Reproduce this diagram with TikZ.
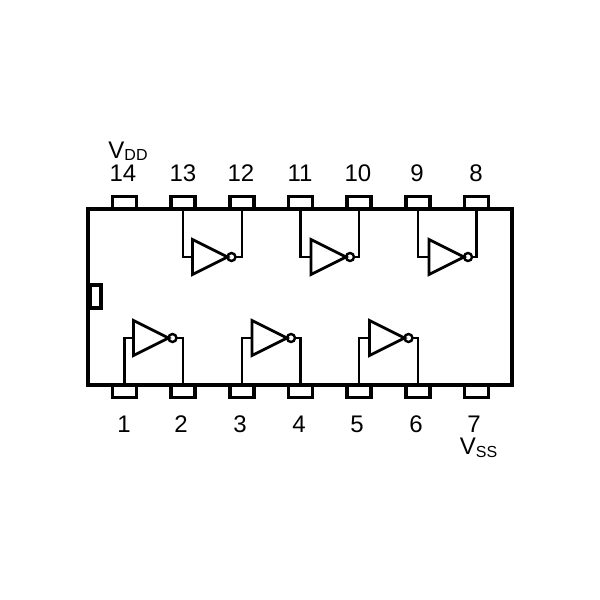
\documentclass[tikz,border=0pt]{standalone}
\usepackage{fontspec}
\setmainfont{Liberation Sans}
\usetikzlibrary{shapes.geometric}
\tikzset{
	chipbox/.style={draw,line width=4.8pt,minimum width=424pt,minimum height=176pt,inner sep=0pt},
	pinbox/.style={draw,fill=white,line width=3.4pt,minimum width=24pt,minimum height=11.5pt,inner sep=0pt},
	notchbox/.style={draw,fill=white,line width=3.4pt,minimum width=11pt,minimum height=23pt,inner sep=0pt},
	invert/.style={draw,line width=2.8pt,isosceles triangle,isosceles triangle stretches,minimum width=35pt,minimum height=35pt,inner sep=0pt,outer sep=0pt,anchor=lower side},
	bubble/.style={draw,circle,line width=2.4pt,minimum size=8pt,inner sep=0pt,outer sep=0pt,anchor=west},
	wire/.style={line width=2.4pt},
	pinlabel/.style={font=\fontsize{24}{24}\selectfont,inner sep=0pt}
}
\newcommand{\smalltext}[1]{{\fontsize{16}{16}\selectfont\raisebox{-2.5pt}{#1}}}
\begin{document}
\begin{tikzpicture}[x=1pt,y=-1pt]
		\useasboundingbox (0,0) rectangle (600,600);
		\node[chipbox] (chip) at (300,297) {};
		\node[notchbox] (notch) at (95.5,296.5) {};
		% pins, top row
		\node[pinbox] (p14) at (124.5,202.5) {};
		\node[pinbox] (p13) at (183,202.5) {};
		\node[pinbox] (p12) at (242,202.5) {};
		\node[pinbox] (p11) at (300.5,202.5) {};
		\node[pinbox] (p10) at (359,202.5) {};
		\node[pinbox] (p9) at (418,202.5) {};
		\node[pinbox] (p8) at (476.5,202.5) {};
		% pins, bottom row
		\node[pinbox] (p1) at (124.5,391.5) {};
		\node[pinbox] (p2) at (183,391.5) {};
		\node[pinbox] (p3) at (242,391.5) {};
		\node[pinbox] (p4) at (300.5,391.5) {};
		\node[pinbox] (p5) at (359,391.5) {};
		\node[pinbox] (p6) at (418,391.5) {};
		\node[pinbox] (p7) at (476.5,391.5) {};
		% inverters, top row
		\node[invert] (T1) at (192.5,257) {};
		\node[bubble] (C1) at (T1.apex) {};
		\node[invert] (T2) at (311,257) {};
		\node[bubble] (C2) at (T2.apex) {};
		\node[invert] (T3) at (429,257) {};
		\node[bubble] (C3) at (T3.apex) {};
		% inverters, bottom row
		\node[invert] (T4) at (133.5,338) {};
		\node[bubble] (C4) at (T4.apex) {};
		\node[invert] (T5) at (252,338) {};
		\node[bubble] (C5) at (T5.apex) {};
		\node[invert] (T6) at (369.5,338) {};
		\node[bubble] (C6) at (T6.apex) {};
		%
		\path[wire]
		% top wires
		(p13.south) edge[to path={|- (\tikztotarget)}] (T1.lower side)
		(p12.south) edge[to path={|- (\tikztotarget)}] (C1.east)
		(p11.south) edge[to path={|- (\tikztotarget)}] (T2.lower side)
		(p10.south) edge[to path={|- (\tikztotarget)}] (C2.east)
		(p9.south) edge[to path={|- (\tikztotarget)}] (T3.lower side)
		(p8.south) edge[to path={|- (\tikztotarget)}] (C3.east)
		% bottom wires
		(p1.north) edge[to path={|- (\tikztotarget)}] (T4.lower side)
		(p2.north) edge[to path={|- (\tikztotarget)}] (C4.east)
		(p3.north) edge[to path={|- (\tikztotarget)}] (T5.lower side)
		(p4.north) edge[to path={|- (\tikztotarget)}] (C5.east)
		(p5.north) edge[to path={|- (\tikztotarget)}] (T6.lower side)
		(p6.north) edge[to path={|- (\tikztotarget)}] (C6.east);
		% labels
		\node[pinlabel] (l14) at (123,173) {14};
		\node[pinlabel] (l13) at (183,173) {13};
		\node[pinlabel] (l12) at (241,173) {12};
		\node[pinlabel] (l11) at (300,173) {11};
		\node[pinlabel] (l10) at (358,173) {10};
		\node[pinlabel] (l9) at (417,173) {9};
		\node[pinlabel] (l8) at (476,173) {8};
		\node[pinlabel] (l1) at (124,424) {1};
		\node[pinlabel] (l2) at (181,424) {2};
		\node[pinlabel] (l3) at (240,424) {3};
		\node[pinlabel] (l4) at (299,424) {4};
		\node[pinlabel] (l5) at (357,424) {5};
		\node[pinlabel] (l6) at (416,424) {6};
		\node[pinlabel] (l7) at (474,424) {7};
		\node[pinlabel] (vdd) at (128,151) {V\smalltext{DD}};
		\node[pinlabel] (vss) at (478.5,448) {V\smalltext{SS}};
		\end{tikzpicture}
\end{document}
